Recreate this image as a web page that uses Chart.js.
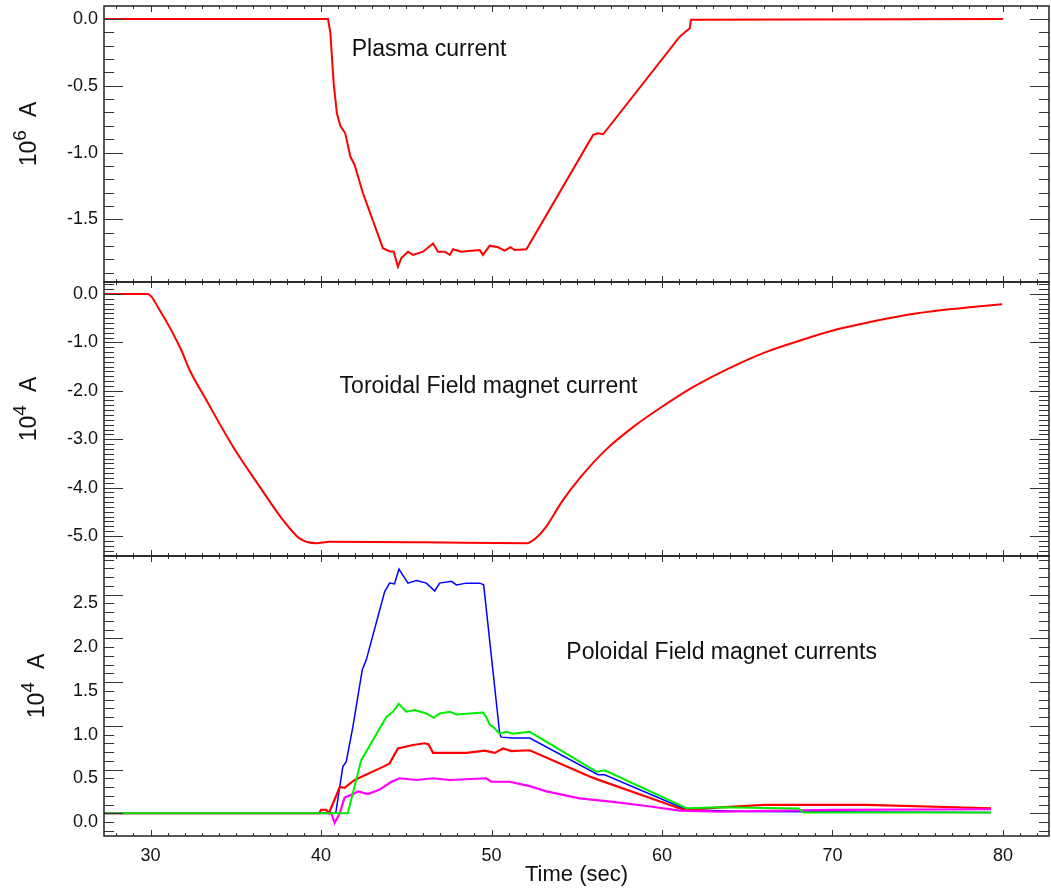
<!DOCTYPE html>
<html>
<head>
<meta charset="utf-8">
<title>Plasma, TF and PF currents</title>
<script src="https://cdn.jsdelivr.net/npm/chart.js@4.4.0/dist/chart.umd.min.js"></script>
<style>
    html, body { margin: 0; padding: 0; background: #fff; }
    #wrap { position: relative; width: 1051px; height: 888px; }
</style>
</head>
<body>
<div id="wrap"><canvas id="chart" width="1051" height="888"></canvas></div>
<script>
// Shot traces (time in sec)

const FONT = '"Liberation Sans", Arial, Helvetica, sans-serif';

const xTicks = [30, 40, 50, 60, 70, 80];

// Plasma current, 10^6 A
const plasmaTime = [27.3, 40.41, 40.55, 40.74, 40.93, 41.13, 41.42, 41.72, 41.97, 42.46, 43.63, 44.03, 44.26,
    44.51, 44.71, 45.10, 45.39, 45.98, 46.57, 46.86, 47.25, 47.55, 47.74, 48.23, 49.31, 49.50, 49.89, 50.38,
    50.77, 51.11, 51.36, 52.05, 55.96, 56.25, 56.55, 61.04, 61.63, 61.70, 80.0];
const plasmaCurrent = [0, 0, -0.107, -0.48, -0.706, -0.80, -0.856, -1.03, -1.093, -1.305, -1.716, -1.74, -1.74,
    -1.854, -1.79, -1.742, -1.766, -1.742, -1.68, -1.742, -1.742, -1.766, -1.724, -1.742, -1.73, -1.766, -1.697, -1.709,
    -1.734, -1.709, -1.73, -1.724, -0.868, -0.856, -0.863, -0.132, -0.07, -0.005, 0];
const plasmaTicks = [0, -0.5, -1.0, -1.5];

// Toroidal field magnet current, 10^4 A
const tfTime = [27.3, 29.84, 30.53, 31.8, 32.29, 33.27, 34.83, 36.40, 37.77, 38.74, 39.72, 40.50, 46.0, 52.07,
    52.58, 53.2, 54.13, 55.26, 56.7, 58.34, 60.0, 61.84, 63.9, 66.16, 68.2, 70.28, 72.34, 74.4, 76.45, 78.5, 79.95];
const tfCurrent = [0, 0, -0.33, -1.157, -1.57, -2.19, -3.15, -3.98, -4.67, -5.05, -5.15, -5.12, -5.13, -5.15,
    -5.05, -4.81, -4.29, -3.77, -3.22, -2.74, -2.33, -1.92, -1.54, -1.19, -0.95, -0.73, -0.57, -0.43, -0.33, -0.26, -0.21];
const tfTicks = [0, -1, -2, -3, -4, -5];

// Poloidal field magnet currents, 10^4 A
const pfBlueTime = [27.3, 40.86, 41.28, 41.48, 41.87, 42.42, 42.65, 43.73, 44.02, 44.31, 44.57, 45.10, 45.59, 46.18,
    46.67, 46.96, 47.65, 47.94, 48.53, 49.31, 49.54, 50.48, 50.57, 51.27, 52.24, 56.25, 56.64, 61.44, 65.0, 79.3];
const pfBlueCurrent = [0, 0, 0.533, 0.59, 0.99, 1.64, 1.75, 2.53, 2.63, 2.62, 2.79, 2.63, 2.66, 2.63,
    2.54, 2.63, 2.65, 2.61, 2.63, 2.63, 2.61, 0.91, 0.87, 0.86, 0.86, 0.44, 0.44, 0.04, 0.02, 0.01];

const pfGreenTime = [27.3, 41.57, 42.36, 42.55, 43.83, 44.22, 44.55, 45.0, 45.49, 46.18, 46.61, 46.96, 47.55, 47.94,
    49.50, 49.69, 49.9, 50.08, 50.48, 50.87, 51.25, 52.24, 56.16, 56.64, 61.44, 63.4, 68.0, 68.3, 79.3];
const pfGreenCurrent = [0, 0, 0.61, 0.67, 1.10, 1.16, 1.25, 1.16, 1.18, 1.14, 1.09, 1.14, 1.16, 1.13,
    1.15, 1.10, 1.01, 0.99, 0.91, 0.93, 0.91, 0.93, 0.475, 0.49, 0.057, 0.069, 0.055, 0.01, 0.01];

const pfRedTime = [27.3, 39.9, 40.0, 40.3, 40.46, 41.1, 41.38, 41.97, 43.63, 44.02, 44.51, 45.39, 46.08, 46.3,
    46.57, 47.55, 48.53, 49.60, 50.19, 50.68, 51.16, 52.24, 55.76, 56.16, 61.25, 64.2, 66.0, 72.0, 79.3];
const pfRedCurrent = [0, 0, 0.04, 0.04, 0.0, 0.30, 0.29, 0.38, 0.53, 0.57, 0.74, 0.78, 0.80, 0.79,
    0.69, 0.69, 0.69, 0.715, 0.69, 0.74, 0.71, 0.72, 0.42, 0.39, 0.04, 0.075, 0.095, 0.095, 0.057];

const pfMagentaTime = [27.3, 40.6, 40.8, 41.1, 41.38, 41.78, 42.17, 42.75, 43.44, 44.13, 44.62, 45.59, 46.57, 47.55,
    49.69, 49.99, 51.06, 52.24, 53.22, 55.17, 57.13, 59.09, 61.05, 63.4, 70.0, 79.3];
const pfMagentaCurrent = [0, 0, -0.11, 0, 0.18, 0.21, 0.25, 0.22, 0.27, 0.36, 0.40, 0.38, 0.40, 0.38,
    0.40, 0.36, 0.36, 0.31, 0.25, 0.17, 0.13, 0.083, 0.03, 0.018, 0.038, 0.046];
const pfTicks = [0, 0.5, 1.0, 1.5, 2.0, 2.5];

function toPoints(times, values) {
    return times.map((t, i) => ({ x: t, y: values[i] }));
}

function makeLine(times, values, color, width, axis, smooth) {
    return {
        data: toPoints(times, values),
        borderColor: color,
        borderWidth: width,
        pointRadius: 0,
        fill: false,
        tension: 0,
        cubicInterpolationMode: smooth ? 'monotone' : 'default',
        xAxisID: 'x',
        yAxisID: axis
    };
}

// One stacked y axis per panel
function panelAxis(tickValues, min, max, weight, stackWeight, labelOffset) {
    return {
        type: 'linear',
        position: 'left',
        stack: 'panels',
        stackWeight: stackWeight,
        weight: weight,
        min: min,
        max: max,
        grid: { display: false, drawTicks: false },
        border: { display: false },
        ticks: {
            font: { family: FONT, size: 18 },
            color: '#111',
            padding: 6,
            labelOffset: labelOffset,
            autoSkip: false,
            callback: v => v.toFixed(1)
        },
        afterBuildTicks: s => { s.ticks = tickValues.map(v => ({ value: v })); },
        afterFit: s => {
            s.width = 104;
            s.paddingTop = 0;
            s.paddingBottom = 0;
        }
    };
}

// IDL style frame: box around each panel, inward ticks on every side
const framePlugin = {
    id: 'frame',
    afterDatasetsDraw(chart) {
        const { ctx, chartArea, scales } = chart;
        const xs = scales.x;
        const L = chartArea.left, R = chartArea.right;
        ctx.save();
        ['y1', 'y2', 'y3'].forEach(id => {
            const s = scales[id];
            const top = s.top, bot = s.bottom;
            const majors = s.ticks.map(t => t.value);
            ctx.strokeStyle = '#333';
            ctx.lineWidth = 1;
            ctx.beginPath();
            for (let k = Math.ceil(s.min * 10 - 1e-6); k <= Math.floor(s.max * 10 + 1e-6); k++) {
                const v = k / 10;
                const py = Math.round(s.getPixelForValue(v)) + 0.5;
                const len = majors.some(m => Math.abs(m - v) < 1e-6) ? 19 : 10;
                ctx.moveTo(L, py); ctx.lineTo(L + len, py);
                ctx.moveTo(R, py); ctx.lineTo(R - len, py);
            }
            for (let t = Math.ceil(xs.min); t <= Math.floor(xs.max); t++) {
                const px = Math.round(xs.getPixelForValue(t)) + 0.5;
                const len = t % 10 === 0 ? 6 : 3;
                ctx.moveTo(px, top); ctx.lineTo(px, top + len);
                ctx.moveTo(px, bot); ctx.lineTo(px, bot - len);
            }
            ctx.stroke();
            ctx.strokeStyle = '#222';
            ctx.lineWidth = 1.5;
            ctx.strokeRect(L, top, R - L, bot - top);
        });
        ctx.restore();
    }
};

const notes = [
    { text: 'Plasma current', axis: 'y1', x: 41.8, y: -0.277 },
    { text: 'Toroidal Field magnet current', axis: 'y2', x: 41.09, y: -2.05 },
    { text: 'Poloidal Field magnet currents', axis: 'y3', x: 54.39, y: 1.76 }
];

const yTitles = [
    { axis: 'y1', exp: '6', base: 36 },
    { axis: 'y2', exp: '4', base: 36 },
    { axis: 'y3', exp: '4', base: 44 }
];

const textPlugin = {
    id: 'texts',
    afterDraw(chart) {
        const { ctx, scales } = chart;
        ctx.save();
        ctx.fillStyle = '#111';
        ctx.textBaseline = 'alphabetic';
        ctx.textAlign = 'left';
        ctx.font = '23px ' + FONT;
        notes.forEach(n => {
            ctx.fillText(n.text, scales.x.getPixelForValue(n.x), scales[n.axis].getPixelForValue(n.y));
        });

        // "10^n  A" rotated titles
        yTitles.forEach(t => {
            const s = scales[t.axis];
            const cy = (s.top + s.bottom) / 2 - 10;
            ctx.save();
            ctx.translate(t.base, cy);
            ctx.rotate(-Math.PI / 2);
            ctx.font = '23px ' + FONT;
            const w10 = ctx.measureText('10').width;
            const wA = ctx.measureText('A').width;
            ctx.font = '19px ' + FONT;
            const wE = ctx.measureText(t.exp).width;
            const gap = 13;
            let x = -(w10 + wE + gap + wA) / 2;
            ctx.font = '23px ' + FONT;
            ctx.fillText('10', x, 0);
            x += w10;
            ctx.font = '19px ' + FONT;
            ctx.fillText(t.exp, x, -10);
            x += wE + gap;
            ctx.font = '23px ' + FONT;
            ctx.fillText('A', x, 0);
            ctx.restore();
        });
        ctx.restore();
    }
};

new Chart(document.getElementById('chart').getContext('2d'), {
    type: 'line',
    data: {
        datasets: [
            makeLine(plasmaTime, plasmaCurrent, '#ff0000', 2, 'y1', false),
            makeLine(tfTime, tfCurrent, '#ff0000', 2, 'y2', true),
            makeLine(pfGreenTime, pfGreenCurrent, '#00ee00', 2, 'y3', false),
            makeLine(pfMagentaTime, pfMagentaCurrent, '#ff00ff', 2.2, 'y3', false),
            makeLine(pfRedTime, pfRedCurrent, '#ff0000', 2.2, 'y3', false),
            makeLine(pfBlueTime, pfBlueCurrent, '#0000ff', 1.5, 'y3', false)
        ]
    },
    options: {
        responsive: false,
        animation: false,
        layout: { padding: { top: 6, right: 2, left: 0, bottom: 0 } },
        plugins: {
            legend: { display: false },
            tooltip: { enabled: false }
        },
        scales: {
            x: {
                type: 'linear',
                position: 'bottom',
                min: 27.27,
                max: 82.7,
                grid: { display: false, drawTicks: false },
                border: { display: false },
                ticks: {
                    font: { family: FONT, size: 18 },
                    color: '#111',
                    padding: 9,
                    maxRotation: 0,
                    autoSkip: false
                },
                afterBuildTicks: s => { s.ticks = xTicks.map(v => ({ value: v })); },
                title: {
                    display: true,
                    text: 'Time (sec)',
                    font: { family: FONT, size: 22 },
                    color: '#111',
                    padding: { top: 0, bottom: 0 }
                },
                afterFit: s => { s.height = 52; }
            },
            y1: panelAxis(plasmaTicks, -1.969, 0.097, 3, 276, 0),
            y2: panelAxis(tfTicks, -5.413, 0.248, 2, 274, 0),
            y3: panelAxis(pfTicks, -0.26, 2.94, 1, 280, 9)
        }
    },
    plugins: [framePlugin, textPlugin]
});
</script>
</body>
</html>
